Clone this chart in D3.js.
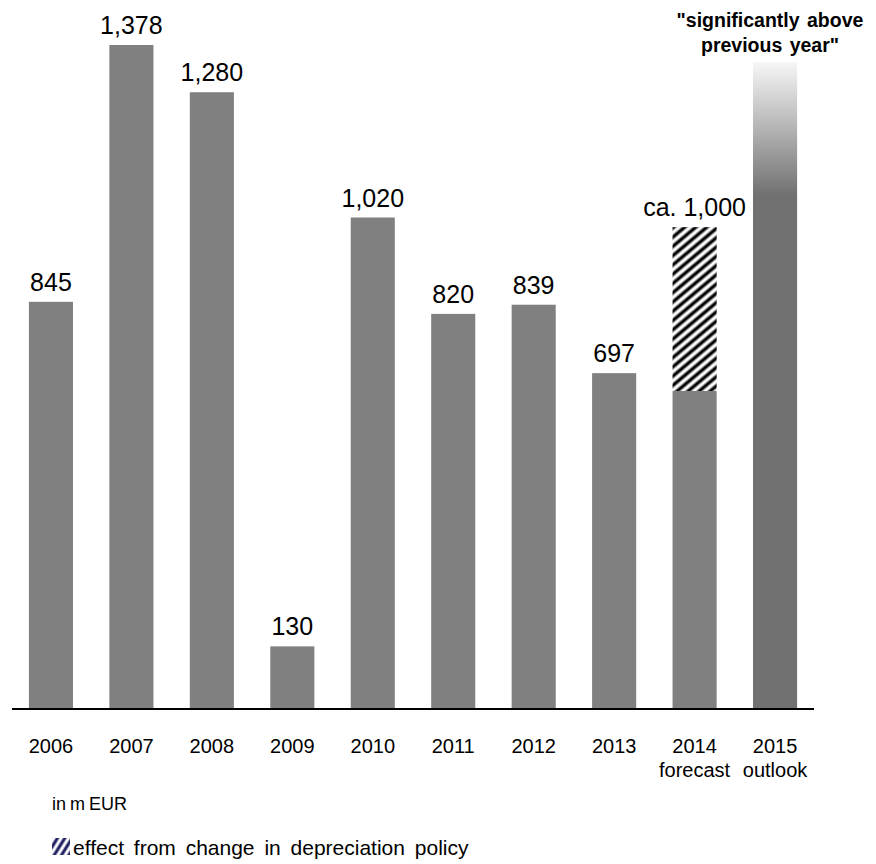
<!DOCTYPE html>
<html>
<head>
<meta charset="utf-8">
<script src="https://cdn.jsdelivr.net/npm/d3@7"></script>
<style>
  html, body { margin: 0; padding: 0; background: #fff; }
  svg { display: block; font-family: "Liberation Sans", Arial, sans-serif; }
</style>
</head>
<body>
<svg id="chart" width="876" height="864"></svg>
<script>
// EBIT development, in m EUR
const years = ["2006", "2007", "2008", "2009", "2010", "2011", "2012", "2013", "2014", "2015"];
const subLabels = ["", "", "", "", "", "", "", "", "forecast", "outlook"];
// reported part of each bar
const baseValues = [845, 1378, 1280, 130, 1020, 820, 839, 697, 660, 1343];
// part caused by the change in depreciation policy
const effectValues = [0, 0, 0, 0, 0, 0, 0, 0, 340, 0];
const valueLabels = ["845", "1,378", "1,280", "130", "1,020", "820", "839", "697", "ca. 1,000", ""];
const outlookNote = ["\"significantly above", "previous year\""];
const unitNote = "in m EUR";
const legendNote = "effect from change in depreciation policy";

const svg = d3.select("#chart");
const defs = svg.append("defs");

const x = d3.scaleBand()
  .domain(years)
  .range([12, 814])
  .paddingInner(0.452)
  .paddingOuter(0.21);

const y = d3.scaleLinear()
  .domain([0, 1378])
  .range([709, 45]);

// soft diagonal stripes for the depreciation effect
function stripePattern(id, color, period, angle) {
  const g = defs.append("linearGradient")
    .attr("id", id + "-grad")
    .attr("x1", 0).attr("x2", 1).attr("y1", 0).attr("y2", 0);
  g.append("stop").attr("offset", 0).attr("stop-color", "#fff");
  g.append("stop").attr("offset", 0.12).attr("stop-color", "#fff");
  g.append("stop").attr("offset", 0.4).attr("stop-color", color);
  g.append("stop").attr("offset", 0.6).attr("stop-color", color);
  g.append("stop").attr("offset", 0.88).attr("stop-color", "#fff");
  g.append("stop").attr("offset", 1).attr("stop-color", "#fff");
  const p = defs.append("pattern")
    .attr("id", id)
    .attr("patternUnits", "userSpaceOnUse")
    .attr("width", period).attr("height", 10)
    .attr("patternTransform", `rotate(${angle})`);
  p.append("rect")
    .attr("width", period).attr("height", 10)
    .attr("fill", `url(#${id}-grad)`);
}
stripePattern("hatch", "#000", 7.1, 50);
stripePattern("hatch-legend", "#14145a", 6.2, 32);

// fading top of the outlook bar
const fade = defs.append("linearGradient")
  .attr("id", "outlook-fade")
  .attr("gradientUnits", "userSpaceOnUse")
  .attr("x1", 0).attr("x2", 0)
  .attr("y1", y(1343)).attr("y2", 195);
fade.append("stop").attr("offset", 0).attr("stop-color", "#f7f7f7");
fade.append("stop").attr("offset", 1).attr("stop-color", "#717171");

const rows = years.map((yr, i) => ({
  year: yr, sub: subLabels[i], base: baseValues[i], effect: effectValues[i], label: valueLabels[i]
}));

// base bars
svg.append("g").selectAll("rect")
  .data(rows)
  .join("rect")
  .attr("x", d => x(d.year))
  .attr("width", x.bandwidth())
  .attr("y", d => y(d.base))
  .attr("height", d => y(0) - y(d.base))
  .attr("fill", d => d.year === "2015" ? "url(#outlook-fade)" : "#808080");

// depreciation effect stacked on top
svg.append("g").selectAll("rect")
  .data(rows.filter(d => d.effect > 0))
  .join("rect")
  .attr("x", d => x(d.year))
  .attr("width", x.bandwidth())
  .attr("y", d => y(d.base + d.effect))
  .attr("height", d => y(d.base) - y(d.base + d.effect))
  .attr("fill", "url(#hatch)");

// value labels
svg.append("g").selectAll("text")
  .data(rows.filter(d => d.label))
  .join("text")
  .attr("x", d => x(d.year) + x.bandwidth() / 2)
  .attr("y", d => y(d.base + d.effect) - 11)
  .attr("text-anchor", "middle")
  .attr("font-size", 25)
  .attr("fill", "#000")
  .text(d => d.label);

// baseline
svg.append("line")
  .attr("x1", x.range()[0]).attr("x2", x.range()[1])
  .attr("y1", 709).attr("y2", 709)
  .attr("stroke", "#000").attr("stroke-width", 2);

// year labels
const xAxis = svg.append("g").attr("class", "x-axis");
xAxis.selectAll("text.year")
  .data(rows)
  .join("text")
  .attr("class", "year")
  .attr("x", d => x(d.year) + x.bandwidth() / 2)
  .attr("y", 753)
  .attr("text-anchor", "middle")
  .attr("font-size", 20)
  .text(d => d.year);
xAxis.selectAll("text.sub")
  .data(rows.filter(d => d.sub))
  .join("text")
  .attr("class", "sub")
  .attr("x", d => x(d.year) + x.bandwidth() / 2)
  .attr("y", 777)
  .attr("text-anchor", "middle")
  .attr("font-size", 20)
  .text(d => d.sub);

// outlook note
svg.append("text")
  .attr("x", 770).attr("y", 27)
  .attr("text-anchor", "middle")
  .attr("font-size", 19.5)
  .attr("font-weight", "bold")
  .attr("word-spacing", 2)
  .selectAll("tspan")
  .data(outlookNote)
  .join("tspan")
  .attr("x", 770)
  .attr("dy", (d, i) => i === 0 ? 0 : 25)
  .text(d => d);

// unit note
svg.append("text")
  .attr("x", 52).attr("y", 810)
  .attr("font-size", 18)
  .attr("word-spacing", -1)
  .text(unitNote);

// legend
svg.append("rect")
  .attr("x", 52).attr("y", 838)
  .attr("width", 18).attr("height", 17)
  .attr("fill", "url(#hatch-legend)");
svg.append("text")
  .attr("x", 73).attr("y", 855)
  .attr("font-size", 21)
  .attr("word-spacing", 4)
  .text(legendNote);
</script>
</body>
</html>
